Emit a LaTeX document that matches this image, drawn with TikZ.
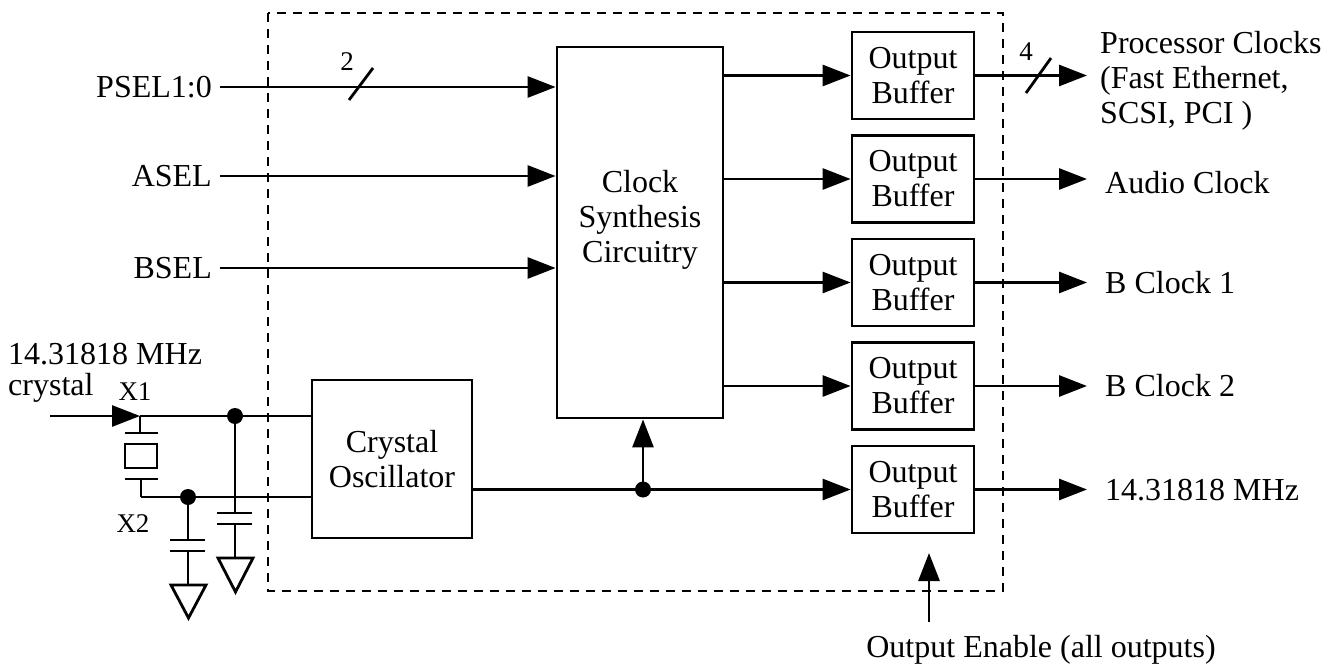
\documentclass[tikz,border=0pt]{standalone}
\usepackage{fontspec}
\setmainfont{Liberation Serif}
\usetikzlibrary{arrows.meta}
\begin{document}
\begin{tikzpicture}[x=1pt,y=-1pt,
  wire/.style={line width=2.8pt},
  arr/.style={wire,-{Triangle[length=28pt,width=21pt]}},
  blk/.style={draw,line width=2.8pt,inner sep=0pt,align=center},
  lbl/.style={inner sep=0pt,font=\fontsize{32}{35}\selectfont},
  small/.style={inner sep=0pt,font=\fontsize{27}{30}\selectfont},
  jdot/.style={circle,fill,inner sep=0pt,minimum size=16pt},
  buf/.style={blk,minimum width=122pt,minimum height=87pt,font=\fontsize{32}{35}\selectfont},
  gnd/.style={wire,line join=miter},
]
\useasboundingbox (0,0) rectangle (1327,666);

% dashed chip outline
\draw[line width=2.2pt,dash pattern=on 9pt off 7pt] (268,13) rectangle (1003,591);

% blocks
\node[blk,minimum width=166pt,minimum height=371pt] (synth) at (640,232.5) {};
\node[lbl,align=center] (synthlbl) at (640,220) {Clock\\Synthesis\\Circuitry};
\node[blk,minimum width=160pt,minimum height=158pt,font=\fontsize{32}{35}\selectfont] (osc) at (392,459) {Crystal\\Oscillator};
\node[buf] (buf1) at (913,75.5) {Output\\Buffer};
\node[buf] (buf2) at (913,179) {Output\\Buffer};
\node[buf] (buf3) at (913,282.5) {Output\\Buffer};
\node[buf] (buf4) at (913,386) {Output\\Buffer};
\node[buf] (buf5) at (913,489.5) {Output\\Buffer};

% select inputs
\node[lbl,anchor=east] (psel) at (212,87) {PSEL1:0};
\node[lbl,anchor=east] (asel) at (212,176) {ASEL};
\node[lbl,anchor=east] (bsel) at (212,268) {BSEL};
\draw[arr] ([xshift=8pt]psel.east) -- (psel.east -| synth.west);
\draw[arr] ([xshift=8pt]asel.east) -- (asel.east -| synth.west);
\draw[arr] ([xshift=8pt]bsel.east) -- (bsel.east -| synth.west);
\coordinate (s2a) at (349,100); \coordinate (s2b) at (373,68);
\draw[wire] (s2a) -- (s2b);
\node[small] (n2) at (347,62) {2};

% synthesis to buffers
\foreach \b in {buf1,buf2,buf3,buf4}
  \draw[arr] (synth.east |- \b.west) -- (\b.west);

% buffer outputs
\coordinate (o1) at (1087,75.5);
\coordinate (o2) at (1087,179);
\coordinate (o3) at (1087,282.5);
\coordinate (o4) at (1087,386);
\coordinate (o5) at (1087,489.5);
\draw[arr] (buf1.east) -- (o1);
\draw[arr] (buf2.east) -- (o2);
\draw[arr] (buf3.east) -- (o3);
\draw[arr] (buf4.east) -- (o4);
\draw[arr] (buf5.east) -- (o5);
\coordinate (s4a) at (1026,93); \coordinate (s4b) at (1051,58);
\draw[wire] (s4a) -- (s4b);
\node[small] (n4) at (1026,52) {4};

\node[lbl,anchor=west,align=left] (proc) at (1100,81) {Processor Clocks\\(Fast Ethernet,\\SCSI, PCI )};
\node[lbl,anchor=west] (audio) at (1105,183) {Audio Clock};
\node[lbl,anchor=west] (bc1) at (1105,283) {B Clock 1};
\node[lbl,anchor=west] (bc2) at (1105,386) {B Clock 2};
\node[lbl,anchor=west] (f14) at (1105,490) {14.31818 MHz};

% oscillator output
\coordinate (j3) at (643,489.5);
\draw[arr] (osc.east |- buf5.west) -- (buf5.west);
\draw[arr] (j3) -- (j3 |- synth.south);
\node[jdot] (d3) at (j3) {};

% output enable
\node[lbl] (oe) at (1041,650) {Output Enable (all outputs)};
\coordinate (oe1) at (929,622);
\coordinate (oe2) at (929,553);
\draw[arr] (oe1) -- (oe2);

% crystal input
\node[lbl,anchor=west] (xtal) at (8,354) {14.31818 MHz};
\node[lbl,anchor=west] (xtal2) at (8,388) {crystal};
\node[small] (x1l) at (135,392) {X1};
\node[small] (x2l) at (133,524) {X2};
\coordinate (xin) at (50,416);
\coordinate (x1) at (140,416);
\coordinate (x2) at (141,497);
\coordinate (j1) at (235,416);
\coordinate (j2) at (188,497);
\draw[arr] (xin) -- (x1);
\draw[wire] (x1) -- (x1 -| osc.west);
\draw[wire] (x2) -- (x2 -| osc.west);
% crystal element
\draw[wire] (x1) -- (140,433);
\draw[wire] (125,433) -- (158,433);
\draw[wire] (125,444) rectangle (157,468);
\draw[wire] (125,479) -- (158,479);
\draw[wire] (141,479) -- (x2);
% capacitor from j2
\draw[wire] (j2) -- (188,540);
\draw[wire] (170,540) -- (205,540);
\draw[wire] (170,551) -- (205,551);
\draw[wire] (188,551) -- (188,585);
\draw[gnd] (171,585) -- (206,585) -- (188.5,618) -- cycle;
% capacitor from j1
\draw[wire] (j1) -- (235,513);
\draw[wire] (217,513) -- (252,513);
\draw[wire] (217,524) -- (252,524);
\draw[wire] (235,524) -- (235,558);
\draw[gnd] (218,558) -- (253,558) -- (235.5,592) -- cycle;
\node[jdot] (d1) at (j1) {};
\node[jdot] (d2) at (j2) {};
\end{tikzpicture}
\end{document}
